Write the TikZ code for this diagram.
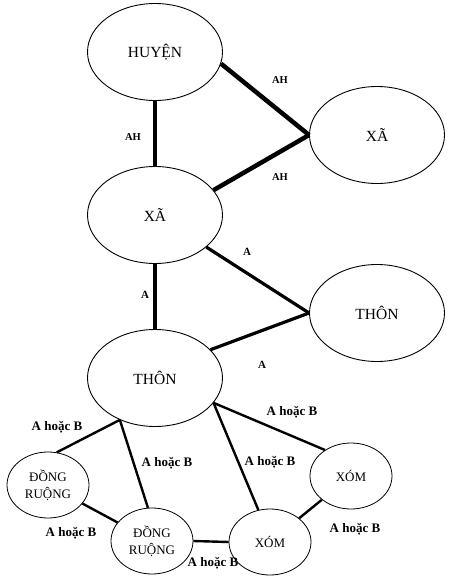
\documentclass[tikz,border=0pt]{standalone}
\usepackage{fontspec}
\setmainfont{Liberation Serif}
\usetikzlibrary{shapes.geometric}

\begin{document}
\begin{tikzpicture}[
  x=1pt, y=-1pt,
  unit/.style={draw, ellipse, line width=0.9pt, inner sep=0pt, minimum width=135pt, minimum height=97pt, font=\fontsize{15.5}{18}\selectfont},
  small/.style={draw, ellipse, line width=0.8pt, inner sep=0pt, minimum width=82pt, minimum height=66pt, align=center, font=\fontsize{13}{17}\selectfont},
  heavylink/.style={line width=4.5pt},
  midlink/.style={line width=3.2pt},
  lowlink/.style={line width=2.4pt},
  ah/.style={font=\fontsize{10.5}{12}\selectfont\bfseries},
  lbla/.style={font=\fontsize{11}{13}\selectfont\bfseries},
  lblab/.style={font=\fontsize{13}{15}\selectfont\bfseries},
]
\useasboundingbox (0,0) rectangle (459,576);

% upper levels
\node[unit] (huyen) at (155,52)  {\raisebox{-6pt}{HUYỆN}};
\node[unit] (xa1)   at (155,215) {XÃ};
\node[unit] (xa2)   at (377,135) {XÃ};
\node[unit] (thon1) at (155,378) {THÔN};
\node[unit] (thon2) at (377,313) {THÔN};

% lower level
\node[small] (dr1)  at (48,485)  {ĐỒNG\\RUỘNG};
\node[small] (dr2)  at (152,541) {ĐỒNG\\RUỘNG};
\node[small] (xom1) at (270,542) {XÓM};
\node[small] (xom2) at (351,476) {XÓM};

% links
\draw[heavylink] (huyen.south) -- (xa1.north);
\draw[heavylink] (huyen.-10) -- (xa2.west);
\draw[heavylink] (xa1.23) -- (xa2.west);
\draw[midlink] (xa1.south) -- (thon1.north);
\draw[midlink] (xa1.-32) -- (thon2.west);
\draw[midlink] (thon1.27) -- (thon2.west);
\draw[lowlink] (thon1.-130) -- (dr1.75);
\draw[lowlink] (thon1.-130) -- (dr2.97);
\draw[lowlink] (thon1.-23) -- (xom1.110);
\draw[lowlink] (thon1.-23) -- (xom2.135);
\draw[lowlink] (dr1) -- (dr2);
\draw[lowlink] (dr2.east) -- (xom1.west);
\draw[lowlink] (xom1) -- (xom2);

% labels
\node[ah] (ah1) at (280,80)  {AH};
\node[ah] (ah2) at (133,137) {AH};
\node[ah] (ah3) at (280,177) {AH};
\node[lbla] (a1) at (247,252) {A};
\node[lbla] (a2) at (145,295) {A};
\node[lbla] (a3) at (262,365) {A};
\node[lblab] (ab1) at (57,427)  {A hoặc B};
\node[lblab] (ab2) at (167,463) {A hoặc B};
\node[lblab] (ab3) at (270,462) {A hoặc B};
\node[lblab] (ab4) at (292,412) {A hoặc B};
\node[lblab] (ab5) at (71,533)  {A hoặc B};
\node[lblab] (ab6) at (213,563) {A hoặc B};
\node[lblab] (ab7) at (355,529) {A hoặc B};

\end{tikzpicture}
\end{document}
